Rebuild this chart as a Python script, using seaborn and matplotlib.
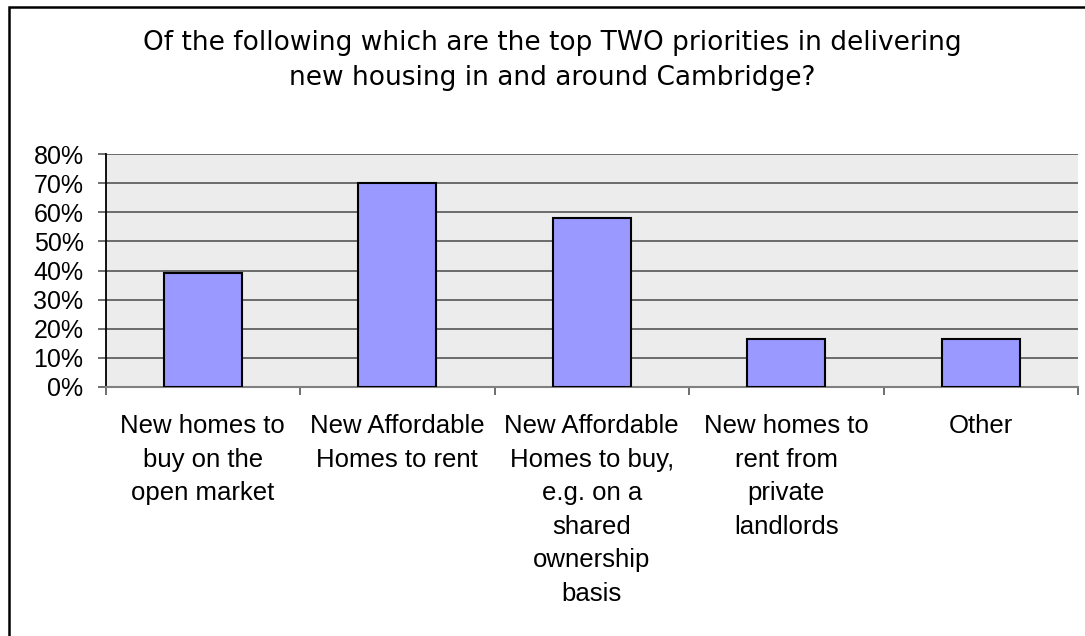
import matplotlib
matplotlib.use("Agg")
import matplotlib.pyplot as plt
from matplotlib.patches import Rectangle
from matplotlib.ticker import FixedLocator, FuncFormatter
import seaborn as sns
import pandas as pd

# Survey responses: share of respondents choosing each option
categories = [
    "New homes to\nbuy on the\nopen market",
    "New Affordable\nHomes to rent",
    "New Affordable\nHomes to buy,\ne.g. on a\nshared\nownership\nbasis",
    "New homes to\nrent from\nprivate\nlandlords",
    "Other",
]
values = [39, 70, 58, 16.5, 16.5]
y_ticks = [0, 10, 20, 30, 40, 50, 60, 70, 80]
title = ("Of the following which are the top TWO priorities in delivering\n"
         "new housing in and around Cambridge?")

df = pd.DataFrame({"option": categories, "share": values})

sns.set_theme(style="white")
plt.rcParams["font.family"] = ["Liberation Sans", "DejaVu Sans"]

W, H = 1085, 636
fig = plt.figure(figsize=(W / 100, H / 100), dpi=100)
ax = fig.add_axes([105.5 / W, 1 - 386.7 / H, (1078 - 105.5) / W, (386.7 - 154.3) / H])
ax.set_facecolor("#ECECEC")

sns.barplot(data=df, x="option", y="share", color="#9999FF", saturation=1,
            width=0.4, edgecolor="black", linewidth=1.5, ax=ax, zorder=3)

ax.set_xlim(-0.5, len(categories) - 0.5)
ax.set_ylim(0, 80)
ax.set_yticks(y_ticks)
ax.yaxis.set_major_formatter(FuncFormatter(lambda v, p: f"{v:.0f}%"))
ax.grid(axis="y", color="#555555", linewidth=1.2, zorder=1)
ax.set_axisbelow(True)

# category labels centred under the bars, tick marks on the boundaries
ax.set_xticks(range(len(categories)))
ax.set_xticklabels(categories, fontsize=18.5, linespacing=1.5, va="top")
ax.xaxis.set_minor_locator(FixedLocator([i - 0.5 for i in range(len(categories) + 1)]))
ax.tick_params(axis="x", which="major", length=0, pad=20, colors="black")
ax.tick_params(axis="x", which="minor", length=8 / 1.389, width=1.2, color="#555555", bottom=True)
ax.tick_params(axis="y", which="major", length=8 / 1.389, width=1.2, color="#555555",
               pad=10, labelsize=18, left=True, labelcolor="black")

ax.set_xlabel("")
ax.set_ylabel("")
for side in ("top", "right"):
    ax.spines[side].set_visible(False)
ax.spines["left"].set_color("black")
ax.spines["left"].set_linewidth(1.3)
ax.spines["bottom"].set_color("#808080")
ax.spines["bottom"].set_linewidth(1.5)

fig.text(552 / W, 1 - 30.5 / H, title, ha="center", va="top", fontsize=19,
         family=["DejaVu Sans"], linespacing=1.42, color="black")

# chart-area border
fig.patches.append(Rectangle((9 / W, -0.05), 1.2, 1 - 6.5 / H + 0.05,
                             transform=fig.transFigure, fill=False,
                             edgecolor="black", linewidth=1.8))

fig.savefig("out.png", dpi=100, facecolor="white")
